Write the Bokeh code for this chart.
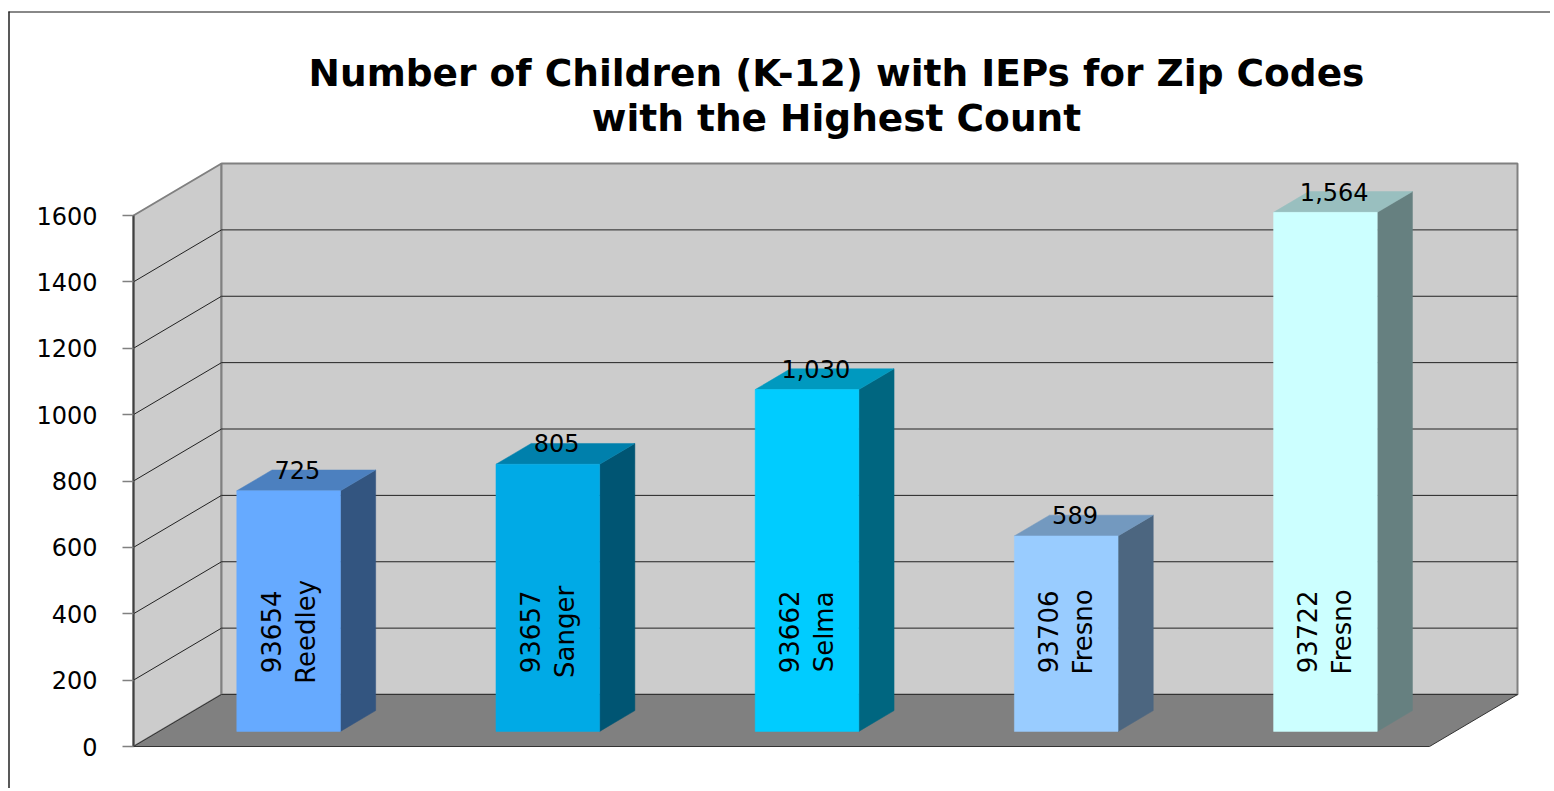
from bokeh.plotting import figure
from bokeh.models import Range1d, LinearAxis, FixedTicker
from bokeh.core.properties import value
from bokeh.embed import file_html
from bokeh.resources import INLINE

# ---------------- data ----------------
TITLE_LINES = ["Number of Children (K-12) with IEPs for Zip Codes", "with the Highest Count"]
ZIP_CODES = ["93654", "93657", "93662", "93706", "93722"]
CITIES = ["Reedley", "Sanger", "Selma", "Fresno", "Fresno"]
COUNTS = [725, 805, 1030, 589, 1564]
BAR_COLORS = ["#66AAFF", "#00AAE6", "#00CCFF", "#99CCFF", "#CCFFFF"]
Y_TICKS = [0, 200, 400, 600, 800, 1000, 1200, 1400, 1600]

# ---------------- layout (page pixels) ----------------
W, H = 1550, 788
PAGE = 0                         # canvas origin on the page
AX_X, AX_Y0 = 133, 746           # front-left corner of the 3D box
PX_U = 259.2                     # px per category slot
PX_V = 531 / 1600                # px per value unit
DEPTH_X, DEPTH_Y = 88, 52        # full depth offset in px
Z_FRONT, Z_BACK = 0.29, 0.69     # bar depth span (fraction of box depth)
BAR_W = 0.40
LABEL_V = 300                    # where rotated category labels sit on the front face


def ux(X):
    return (X - AX_X) / PX_U


def vy(Y):
    return (AX_Y0 - Y) / PX_V


DX = DEPTH_X / PX_U
DY = DEPTH_Y / PX_V
N = len(COUNTS)
VMAX = Y_TICKS[-1]


def shade(hexcol, f):
    h = hexcol.lstrip("#")
    r, g, b = (int(h[i:i + 2], 16) for i in (0, 2, 4))
    return "#%02X%02X%02X" % (round(r * f), round(g * f), round(b * f))


p = figure(width=W, height=H,
           x_range=Range1d(ux(PAGE), ux(PAGE + W)),
           y_range=Range1d(vy(PAGE + H), vy(PAGE)),
           output_backend="svg", toolbar_location=None,
           x_axis_location=None, y_axis_location=None,
           min_border=0, outline_line_color=None,
           background_fill_color="white", border_fill_color="white")
p.grid.visible = False

FONT = value("DejaVu Sans")

# outer chart border
p.segment(x0=[ux(8), ux(8.5)], y0=[vy(11.5), vy(11)],
          x1=[ux(PAGE + W), ux(8.5)], y1=[vy(11.5), vy(PAGE + H)],
          line_color=["#888888", "#222222"], line_width=[2, 1.5])

# walls
p.patch([0, 0, DX, DX], [0, VMAX, VMAX + DY, DY],
        fill_color="#CCCCCC", line_color="#808080", line_width=2)
p.quad(left=[DX], right=[N + DX], bottom=[DY], top=[VMAX + DY],
       fill_color="#CCCCCC", line_color="#808080", line_width=2)

inner = Y_TICKS[1:-1]
p.segment(x0=[DX] * len(inner), x1=[N + DX] * len(inner),
          y0=[t + DY for t in inner], y1=[t + DY for t in inner],
          line_color="#222222", line_width=1)
p.segment(x0=[0] * len(inner), x1=[DX] * len(inner),
          y0=inner, y1=[t + DY for t in inner],
          line_color="#222222", line_width=1)

# floor
p.patch([0, N, N + DX, DX], [0, 0, DY, DY],
        fill_color="#808080", line_color="#333333", line_width=1)

# bars
fx, fy = Z_FRONT * DX, Z_FRONT * DY
bx, by = Z_BACK * DX, Z_BACK * DY
for i, (c, col) in enumerate(zip(COUNTS, BAR_COLORS)):
    l = i + 0.5 - BAR_W / 2
    r = i + 0.5 + BAR_W / 2
    top_c = shade(col, 0.75)
    side_c = shade(col, 0.5)
    # right side
    p.patch([r + fx, r + bx, r + bx, r + fx], [fy, by, c + by, c + fy],
            fill_color=side_c, line_color=side_c, line_width=0.5)
    # top
    p.patch([l + fx, r + fx, r + bx, l + bx], [c + fy, c + fy, c + by, c + by],
            fill_color=top_c, line_color=top_c, line_width=0.5)
    # front
    p.quad(left=[l + fx], right=[r + fx], bottom=[fy], top=[c + fy],
           fill_color=col, line_color=col, line_width=0.5)

# value labels
Z_LBL = 0.39
p.text(x=[i + 0.5 + Z_LBL * DX for i in range(N)],
       y=[c + by for c in COUNTS],
       text=[f"{c:,}" for c in COUNTS],
       text_font=FONT, text_font_size="24px", text_color="black",
       text_align="center", text_baseline="middle")

# category labels (rotated, inside the bars)
p.text(x=[i + 0.5 + fx for i in range(N)],
       y=[LABEL_V + fy] * N,
       text=[f"{z}\n{cty}" for z, cty in zip(ZIP_CODES, CITIES)],
       angle=1.5707963, text_font=FONT, text_font_size="26px",
       text_color="black", text_align="center", text_baseline="middle",
       text_line_height=1.13)

# title
p.text(x=[ux(836)] * 2, y=[vy(72), vy(117)], text=TITLE_LINES,
       text_font=FONT, text_font_style="bold", text_font_size="37.5px",
       text_color="black", text_align="center", text_baseline="middle")

# value axis on the front-left edge
ax = LinearAxis(fixed_location=0, bounds=(0, VMAX),
                ticker=FixedTicker(ticks=Y_TICKS),
                major_tick_in=0, major_tick_out=11,
                minor_tick_in=0, minor_tick_out=0,
                axis_line_color="#404040", axis_line_width=2,
                major_tick_line_color="#808080", major_tick_line_width=1.5,
                major_label_text_font="DejaVu Sans",
                major_label_text_font_size="24px",
                major_label_text_color="black",
                major_label_standoff=25)
p.add_layout(ax, "left")

open("out.html", "w").write(file_html(p, INLINE))
